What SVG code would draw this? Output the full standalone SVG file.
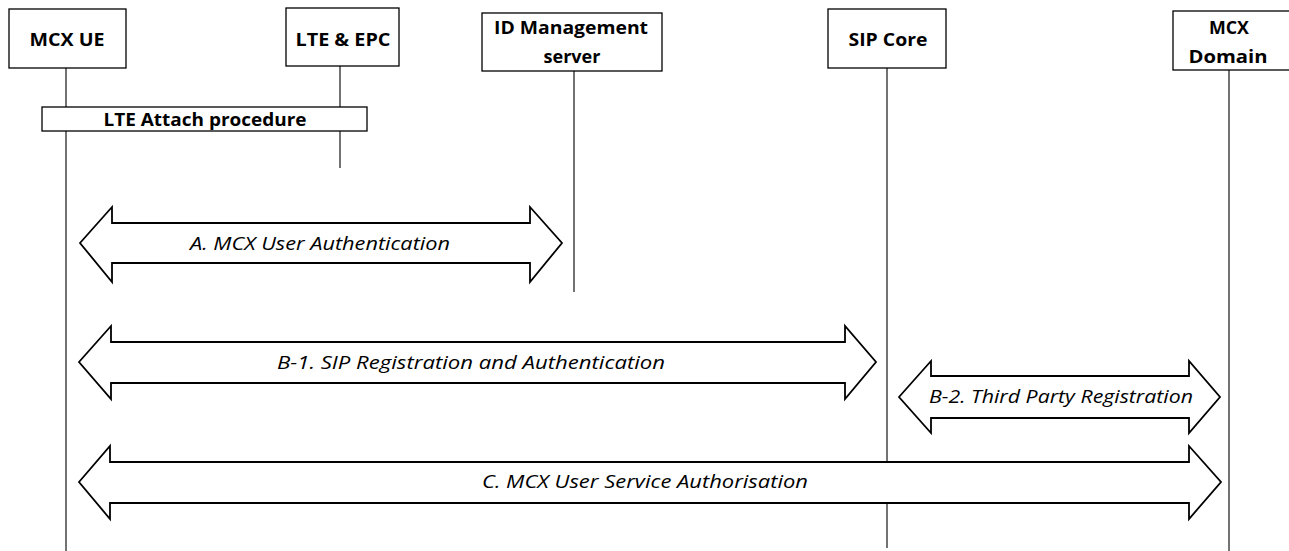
<svg xmlns="http://www.w3.org/2000/svg" width="1289" height="551" viewBox="0 0 1289 551">
<style>
.box{fill:#fff;stroke:#000;stroke-width:1.3}
.life{stroke:#444;stroke-width:1.5;fill:none}
.arr{fill:#fff;stroke:#000;stroke-width:1.8;stroke-linejoin:miter}
.nt{font-family:"Open Sans","Liberation Sans",sans-serif;font-weight:bold;font-size:18px;text-anchor:middle;fill:#000}
.at{font-family:"Open Sans","Liberation Sans",sans-serif;font-style:italic;font-size:18px;text-anchor:middle;fill:#000}
</style>
<rect width="1289" height="551" fill="#fff"/>
<g id="lifelines">
<line class="life" x1="66" y1="68" x2="66" y2="551"/>
<line class="life" x1="340" y1="66" x2="340" y2="168"/>
<line class="life" x1="574" y1="71" x2="574" y2="292"/>
<line class="life" x1="887" y1="68" x2="887" y2="548"/>
<line class="life" x1="1229" y1="70" x2="1229" y2="551"/>
</g>
<g id="node-mcxue"><rect class="box" x="9" y="9" width="117" height="59"/><text class="nt" x="67" y="46" textLength="75" lengthAdjust="spacingAndGlyphs">MCX UE</text></g>
<g id="node-lte"><rect class="box" x="286" y="8" width="113" height="58"/><text class="nt" x="343" y="46" textLength="95" lengthAdjust="spacingAndGlyphs">LTE &amp; EPC</text></g>
<g id="node-idm"><rect class="box" x="482" y="13" width="180" height="58"/><text class="nt" x="571" y="34" textLength="154" lengthAdjust="spacingAndGlyphs">ID Management</text><text class="nt" x="572" y="63" textLength="57" lengthAdjust="spacingAndGlyphs">server</text></g>
<g id="node-sip"><rect class="box" x="828" y="9" width="118" height="59"/><text class="nt" x="888" y="46" textLength="79" lengthAdjust="spacingAndGlyphs">SIP Core</text></g>
<g id="node-mcxd"><rect class="box" x="1173" y="11" width="118" height="59"/><text class="nt" x="1229" y="34" textLength="40" lengthAdjust="spacingAndGlyphs">MCX</text><text class="nt" x="1228" y="63" textLength="79" lengthAdjust="spacingAndGlyphs">Domain</text></g>
<g id="node-attach"><rect class="box" x="42" y="107" width="325" height="24"/><text class="nt" x="205" y="126" textLength="203" lengthAdjust="spacingAndGlyphs">LTE Attach procedure</text></g>
<g id="connectors">
<path class="arr" d="M80,243 L112,207 L112,223 L530,223 L530,207 L562,243 L530,282 L530,263 L112,263 L112,282 Z"/>
<text class="at" x="320" y="250" textLength="260" lengthAdjust="spacingAndGlyphs">A. MCX User Authentication</text>
<path class="arr" d="M79,362 L111,326 L111,342 L845,342 L845,326 L876,362 L845,399 L845,383 L111,383 L111,399 Z"/>
<text class="at" x="471" y="369" textLength="388" lengthAdjust="spacingAndGlyphs">B-1. SIP Registration and Authentication</text>
<path class="arr" d="M899,397 L931,361 L931,376 L1189,376 L1189,361 L1220,397 L1189,433 L1189,418 L931,418 L931,433 Z"/>
<text class="at" x="1061" y="403" textLength="264" lengthAdjust="spacingAndGlyphs">B-2. Third Party Registration</text>
<path class="arr" d="M79,482 L110,446 L110,462 L1189,462 L1189,446 L1221,482 L1189,519 L1189,503 L110,503 L110,519 Z"/>
<text class="at" x="645" y="488" textLength="326" lengthAdjust="spacingAndGlyphs">C. MCX User Service Authorisation</text>
</g>
</svg>
